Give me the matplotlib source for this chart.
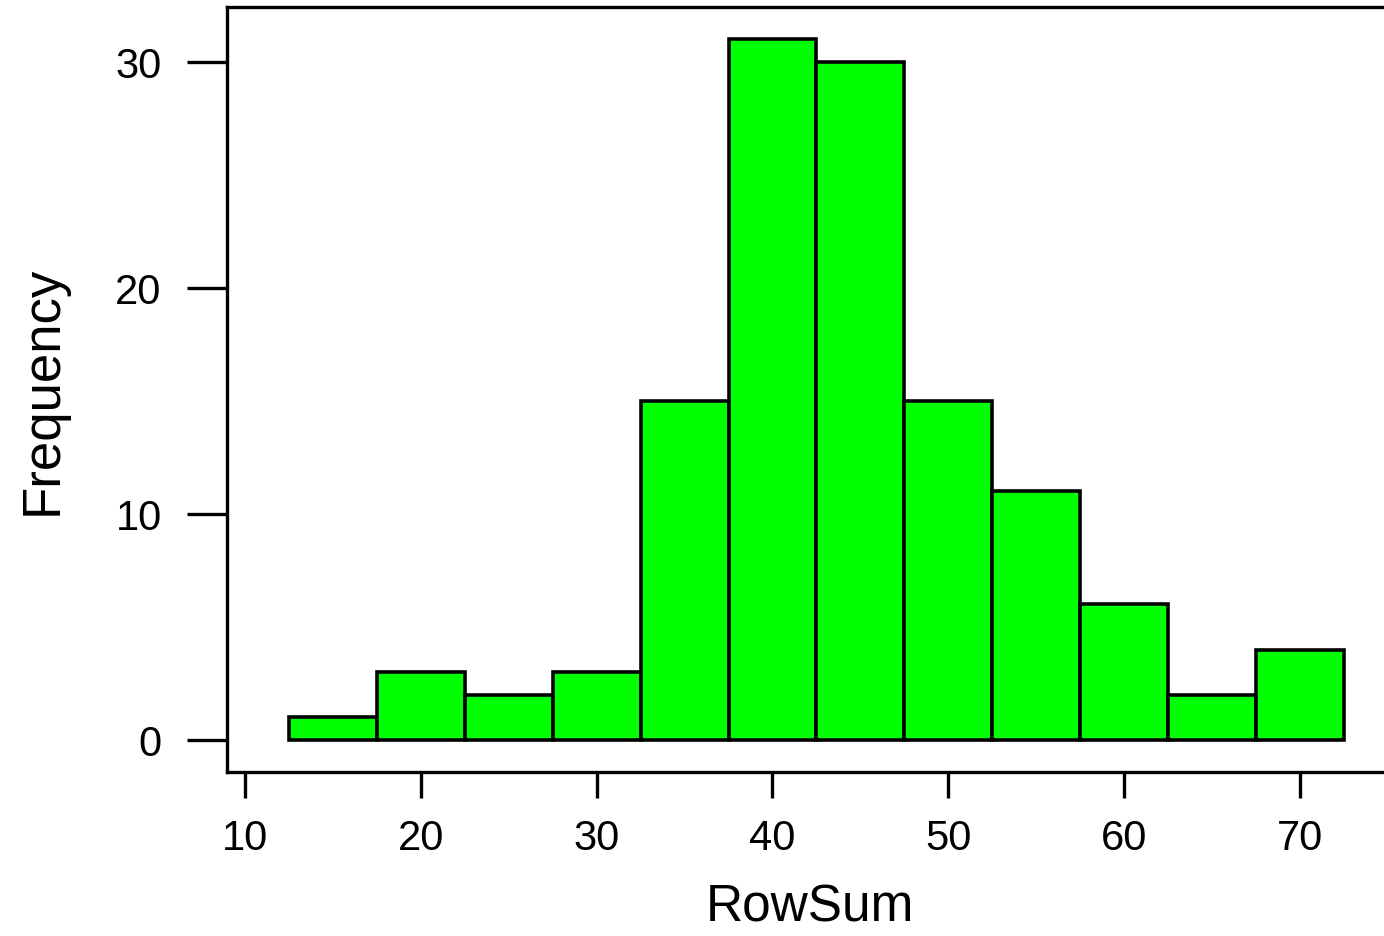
import matplotlib
matplotlib.use("Agg")
import matplotlib.pyplot as plt
import numpy as np

# histogram data
bin_edges = [12.5, 17.5, 22.5, 27.5, 32.5, 37.5, 42.5, 47.5, 52.5, 57.5, 62.5, 67.5, 72.5]
counts = [1, 3, 2, 3, 15, 31, 30, 15, 11, 6, 2, 4]
x_ticks = [10, 20, 30, 40, 50, 60, 70]
y_ticks = [0, 10, 20, 30]

plt.rcParams['font.family'] = ['Liberation Sans', 'DejaVu Sans']

fig = plt.figure(figsize=(13.84, 9.37), dpi=100)
W, H = 1384, 937
left, right, top, bottom = 227, 1392, 8, 773
ax = fig.add_axes([left / W, 1 - bottom / H, (right - left) / W, (bottom - top) / H])

edges = np.array(bin_edges)
ax.bar(edges[:-1], counts, width=np.diff(edges), align='edge',
       color='#00ff00', edgecolor='black', linewidth=2.6)

# map pixel positions to data limits
px_x = (1300 - 245) / 60
ax.set_xlim(10 - (245 - left) / px_x, 70 + (right - 1300) / px_x)
px_y = (741 - 63) / 30
ax.set_ylim(-(bottom - 741) / px_y, (741 - top) / px_y)

ax.set_xticks(x_ticks)
ax.set_yticks(y_ticks)
ax.tick_params(axis='x', length=19, width=2.4, pad=14, labelsize=30)
ax.tick_params(axis='y', length=29, width=2.4, pad=18, labelsize=30)
for s in ax.spines.values():
    s.set_linewidth(2.4)

ax.set_xlabel("RowSum", fontsize=37, labelpad=18)
ax.set_ylabel("Frequency", fontsize=38, labelpad=34)

fig.savefig("out.png", dpi=100)
